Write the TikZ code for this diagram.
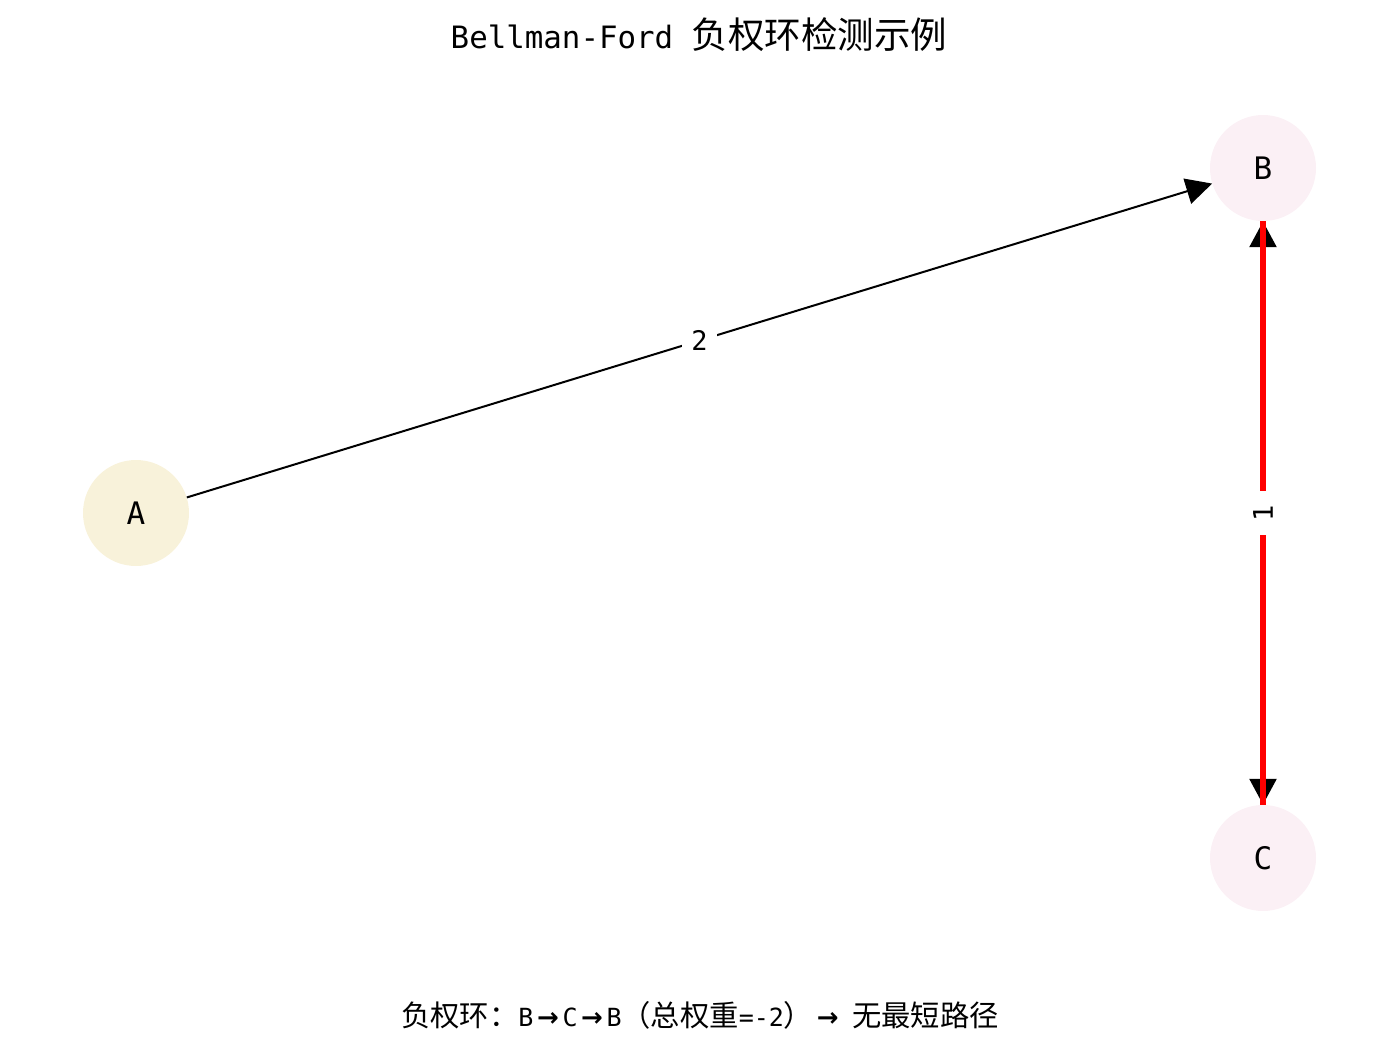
\documentclass[tikz,border=0pt]{standalone}
\usepackage{fontspec}
\setmainfont{DejaVu Sans Mono}
\newfontfamily\cjk{Noto Sans CJK SC}
\newfontfamily\lat{DejaVu Sans Mono}
\newfontfamily\arr{DejaVu Sans}[BoldFont={DejaVu Sans Bold}]
\usetikzlibrary{arrows.meta}
\definecolor{nodeA}{HTML}{F8F2DA}
\definecolor{nodeBC}{HTML}{FBF0F5}
\definecolor{edgered}{HTML}{FF0000}
\newcommand{\ra}{\makebox[29pt]{\arr\bfseries\fontsize{26}{32}\selectfont →}}
\newcommand{\lt}[1]{{\lat\fontsize{25}{32}\selectfont #1}}
\tikzset{
  vertex/.style={circle, inner sep=0pt, minimum size=106pt, text=black,
    font=\lat\fontsize{31}{34}\selectfont},
  elabel/.style={fill=white, inner xsep=9pt, inner ysep=6pt, font=\lat\fontsize{27}{30}\selectfont},
  blackedge/.style={draw=black, line width=2pt, -{Triangle[length=26pt,width=26pt]}},
  rededge/.style={draw=edgered, line width=5.5pt},
  redtips/.style={draw=edgered, line width=5.5pt,
    {Triangle[length=26pt,width=26pt,color=black]}-{Triangle[length=26pt,width=26pt,color=black]}},
}
\begin{document}
\begin{tikzpicture}[x=1pt,y=-1pt]
\useasboundingbox (0,0) rectangle (1400,1046);
\node (title) at (699,35) {\lat\fontsize{30.8}{40}\selectfont Bellman-Ford\ \cjk\fontsize{36.5}{40}\selectfont 负权环检测示例};
\node[vertex, fill=nodeA] (A) at (136,513) {A};
\node[vertex, fill=nodeBC] (B) at (1263,168) {B};
\node[vertex, fill=nodeBC] (C) at (1263,858) {C};
\draw[blackedge] (A) -- node[elabel] (l2) {2} (B);
\draw[redtips] (B) -- (C);
\draw[rededge] (B.south) -- node[elabel, rotate=90, inner xsep=14pt] (l1) {1} (C.north);
\node (foot) at (700,1015) {\cjk\fontsize{29.3}{32}\selectfont 负权环：\lt{B}\ra\lt{C}\ra\lt{B}（总权重\lt{=-2}）\ra\hspace{10pt}无最短路径};
\end{tikzpicture}
\end{document}
